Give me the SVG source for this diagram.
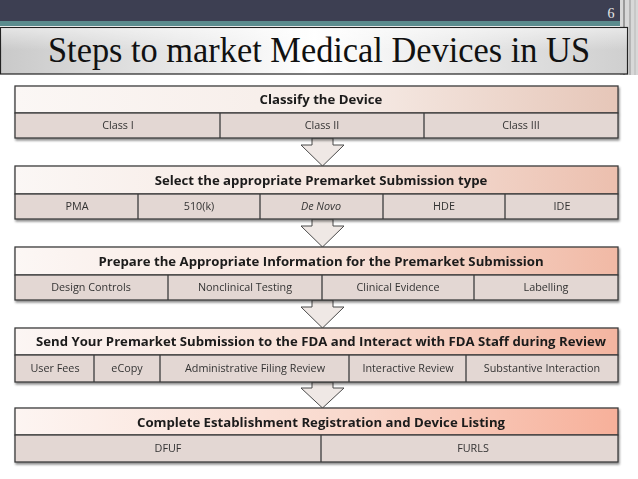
<svg xmlns="http://www.w3.org/2000/svg" width="638" height="479" viewBox="0 0 638 479">
<defs>
<linearGradient id="title" x1="0" y1="0" x2="1" y2="0">
<stop offset="0" stop-color="#c9c9c9"/><stop offset="0.5" stop-color="#ffffff"/><stop offset="1" stop-color="#cfcfcf"/>
</linearGradient>
<linearGradient id="titlev" x1="0" y1="0" x2="0" y2="1">
<stop offset="0" stop-color="#ffffff" stop-opacity="0.5"/><stop offset="1" stop-color="#ffffff" stop-opacity="0"/>
</linearGradient>
<linearGradient id="h1" x1="0" y1="0" x2="1" y2="0">
<stop offset="0" stop-color="#fbf7f5"/><stop offset="0.55" stop-color="#f6ece7"/><stop offset="1" stop-color="#e6c6b8"/>
</linearGradient>
<linearGradient id="h2" x1="0" y1="0" x2="1" y2="0">
<stop offset="0" stop-color="#fbf7f5"/><stop offset="0.55" stop-color="#f5e6df"/><stop offset="1" stop-color="#ecbfae"/>
</linearGradient>
<linearGradient id="h3" x1="0" y1="0" x2="1" y2="0">
<stop offset="0" stop-color="#fcf7f5"/><stop offset="0.55" stop-color="#f7e2d9"/><stop offset="1" stop-color="#f1b9a5"/>
</linearGradient>
<linearGradient id="h4" x1="0" y1="0" x2="1" y2="0">
<stop offset="0" stop-color="#fcf6f4"/><stop offset="0.55" stop-color="#f8ded3"/><stop offset="1" stop-color="#f4b5a0"/>
</linearGradient>
<linearGradient id="h5" x1="0" y1="0" x2="1" y2="0">
<stop offset="0" stop-color="#fdf5f2"/><stop offset="0.55" stop-color="#f9d9cd"/><stop offset="1" stop-color="#f7b09a"/>
</linearGradient>
<filter id="sh" x="-5%" y="-20%" width="110%" height="150%">
<feDropShadow dx="1" dy="2" stdDeviation="1.2" flood-color="#000" flood-opacity="0.45"/>
</filter>
</defs>
<style>
.hd{stroke:#3c3c3c;stroke-width:1.3}
.row{fill:#e3d7d3;stroke:#3c3c3c;stroke-width:1.3}
.div{stroke:#3c3c3c;stroke-width:1.3}
.ht{font-family:"Open Sans","Liberation Sans",sans-serif;font-weight:bold;font-size:13.2px;fill:#1a1a1a;text-anchor:middle}
.ct{font-family:"Open Sans","Liberation Sans",sans-serif;font-size:10.8px;fill:#333;text-anchor:middle}
.arr{fill:#efe8e5;stroke:#4a4a4a;stroke-width:1}
</style>
<rect x="0" y="0" width="638" height="479" fill="#ffffff"/>
<!-- top bar -->
<rect x="0" y="0" width="638" height="22" fill="#3d3f52"/>
<rect x="0" y="21" width="638" height="5" fill="#5b8c8e"/>
<rect x="620" y="0" width="18" height="75" fill="#d8d8d8"/>
<rect x="623" y="0" width="2" height="75" fill="#9a9a9a"/>
<rect x="629" y="0" width="2" height="75" fill="#b5b5b5"/>
<rect x="634" y="0" width="2" height="75" fill="#c8c8c8"/>
<text x="611" y="18" font-family="Liberation Serif,serif" font-size="14" fill="#e8e8e8" text-anchor="middle">6</text>
<g id="title-box">
<rect x="0.5" y="27.5" width="627" height="46.5" fill="url(#title)" stroke="#222" stroke-width="1.2"/>
<rect x="1" y="28" width="626" height="22" fill="url(#titlev)"/>
<text x="48" y="62" font-family="Liberation Serif,serif" font-size="35" fill="#111" textLength="542" lengthAdjust="spacingAndGlyphs">Steps to market Medical Devices in US</text>
</g>
<g id="connectors">
<polygon class="arr" points="312,138 333,138 333,145 344,145 322.5,166 301,145 312,145"/>
<polygon class="arr" points="312,219 333,219 333,226 344,226 322.5,247 301,226 312,226"/>
<polygon class="arr" points="312,300 333,300 333,307 344,307 322.5,328 301,307 312,307"/>
<polygon class="arr" points="312,382 333,382 333,388 344,388 322.5,408 301,388 312,388"/>
</g>
<g id="step1" filter="url(#sh)">
<rect class="hd" x="15" y="86" width="603" height="27" fill="url(#h1)"/>
<rect class="row" x="15" y="113" width="603" height="25"/>
<line class="div" x1="220" y1="113" x2="220" y2="138"/><line class="div" x1="424" y1="113" x2="424" y2="138"/>
<text class="ht" x="321" y="104">Classify the Device</text>
<text class="ct" x="118" y="129">Class I</text>
<text class="ct" x="322" y="129">Class II</text>
<text class="ct" x="521" y="129">Class III</text>
</g>
<g id="step2" filter="url(#sh)">
<rect class="hd" x="15" y="166" width="603" height="28" fill="url(#h2)"/>
<rect class="row" x="15" y="194" width="603" height="25"/>
<line class="div" x1="138" y1="194" x2="138" y2="219"/><line class="div" x1="260" y1="194" x2="260" y2="219"/><line class="div" x1="383" y1="194" x2="383" y2="219"/><line class="div" x1="505" y1="194" x2="505" y2="219"/>
<text class="ht" x="321" y="185">Select the appropriate Premarket Submission type</text>
<text class="ct" x="77" y="210">PMA</text>
<text class="ct" x="199" y="210">510(k)</text>
<text class="ct" x="321" y="210" font-style="italic">De Novo</text>
<text class="ct" x="444" y="210">HDE</text>
<text class="ct" x="562" y="210">IDE</text>
</g>
<g id="step3" filter="url(#sh)">
<rect class="hd" x="15" y="247" width="603" height="28" fill="url(#h3)"/>
<rect class="row" x="15" y="275" width="603" height="25"/>
<line class="div" x1="168" y1="275" x2="168" y2="300"/><line class="div" x1="322" y1="275" x2="322" y2="300"/><line class="div" x1="474" y1="275" x2="474" y2="300"/>
<text class="ht" x="321" y="266">Prepare the Appropriate Information for the Premarket Submission</text>
<text class="ct" x="91" y="291">Design Controls</text>
<text class="ct" x="245" y="291">Nonclinical Testing</text>
<text class="ct" x="398" y="291">Clinical Evidence</text>
<text class="ct" x="546" y="291">Labelling</text>
</g>
<g id="step4" filter="url(#sh)">
<rect class="hd" x="15" y="328" width="603" height="27" fill="url(#h4)"/>
<rect class="row" x="15" y="355" width="603" height="27"/>
<line class="div" x1="94" y1="355" x2="94" y2="382"/><line class="div" x1="160" y1="355" x2="160" y2="382"/><line class="div" x1="349" y1="355" x2="349" y2="382"/><line class="div" x1="466" y1="355" x2="466" y2="382"/>
<text class="ht" x="321" y="346" textLength="570" lengthAdjust="spacingAndGlyphs">Send Your Premarket Submission to the FDA and Interact with FDA Staff during Review</text>
<text class="ct" x="55" y="372">User Fees</text>
<text class="ct" x="127" y="372">eCopy</text>
<text class="ct" x="255" y="372">Administrative Filing Review</text>
<text class="ct" x="408" y="372">Interactive Review</text>
<text class="ct" x="542" y="372">Substantive Interaction</text>
</g>
<g id="step5" filter="url(#sh)">
<rect class="hd" x="15" y="408" width="603" height="27" fill="url(#h5)"/>
<rect class="row" x="15" y="435" width="603" height="27"/>
<line class="div" x1="321" y1="435" x2="321" y2="462"/>
<text class="ht" x="321" y="427">Complete Establishment Registration and Device Listing</text>
<text class="ct" x="168" y="452">DFUF</text>
<text class="ct" x="473" y="452">FURLS</text>
</g>
</svg>
